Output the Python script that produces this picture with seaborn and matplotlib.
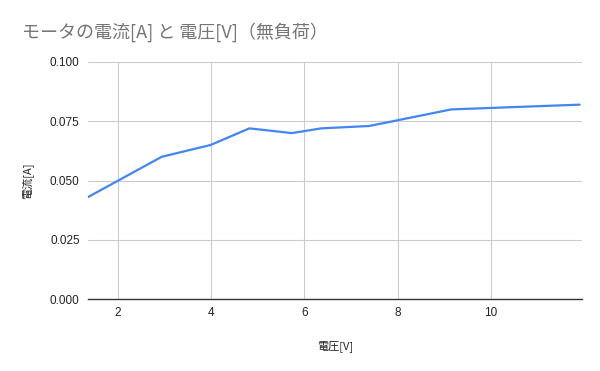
import matplotlib
matplotlib.use("Agg")
import matplotlib.pyplot as plt
import seaborn as sns
import pandas as pd

# 電圧[V] と 電流[A]（無負荷）
voltage = [1.36, 2.94, 3.99, 4.82, 5.73, 6.36, 7.39, 9.15, 11.9]
current = [0.043, 0.060, 0.065, 0.072, 0.070, 0.072, 0.073, 0.080, 0.082]
x_ticks = [2, 4, 6, 8, 10]
y_ticks = [0.000, 0.025, 0.050, 0.075, 0.100]

data = pd.DataFrame({"電圧[V]": voltage, "電流[A]": current})

sns.set_theme(style="white")
plt.rcParams['font.family'] = ['Liberation Sans', 'Noto Sans CJK JP', 'DejaVu Sans']

fig = plt.figure(figsize=(6, 3.71), dpi=100)
ax = fig.add_axes([88/600, 72/371, 494/600, 237/371])

sns.lineplot(data=data, x="電圧[V]", y="電流[A]", ax=ax, color="#4285F4", linewidth=1.6)

ax.set_xlim(1.36, 11.95)
ax.set_ylim(0, 0.1)
ax.set_xticks(x_ticks)
ax.set_yticks(y_ticks)
ax.set_yticklabels([f"{v:.3f}" for v in y_ticks])
ax.grid(True, color="#cccccc", linewidth=0.8)
for s in ["top", "right", "left"]:
    ax.spines[s].set_visible(False)
ax.spines["bottom"].set_color("#333333")
ax.spines["bottom"].set_linewidth(1.0)
ax.tick_params(axis="both", length=0, labelsize=8.5, colors="#222222", pad=6)

ax.set_xlabel("電圧[V]", fontsize=8, color="#222222", labelpad=15,
              family=['Noto Sans CJK JP', 'DejaVu Sans'])
ax.set_ylabel("電流[A]", fontsize=8, color="#222222", labelpad=12,
              family=['Noto Sans CJK JP', 'DejaVu Sans'])

fig.text(22/600, 1 - 32/371, "モータの電流[A] と 電圧[V]（無負荷）", fontsize=13,
         color="#757575", va="center", ha="left",
         family=['Noto Sans CJK JP', 'DejaVu Sans'])

fig.savefig("out.png", dpi=100)
